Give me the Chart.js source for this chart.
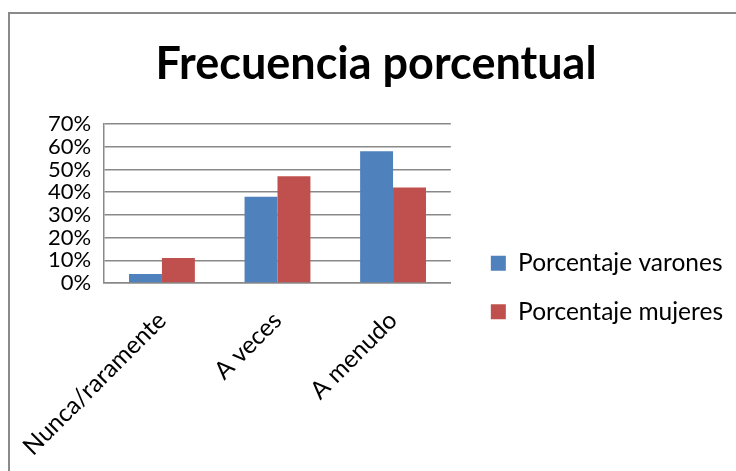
<!DOCTYPE html>
<html>
<head>
<meta charset="utf-8">
<script src="https://cdn.jsdelivr.net/npm/chart.js@4/dist/chart.umd.min.js"></script>
<style>
  html, body { margin: 0; padding: 0; background: #fff; }
  #frame { position: absolute; left: 8px; top: 12px; width: 800px; height: 500px;
           border-left: 2px solid #8a8a8a; border-top: 2px solid #8a8a8a; }
  #wrap { position: absolute; left: 0; top: 0; width: 736px; height: 471px; }
</style>
</head>
<body>
<div id="frame"></div>
<div id="wrap"><canvas id="c"></canvas></div>
<script>
const categories = ['Nunca/raramente', 'A veces', 'A menudo'];
const varones = [4, 38, 58];
const mujeres = [11, 47, 42];
const yTicks = [0, 10, 20, 30, 40, 50, 60, 70];

const FONT = 'Lato, "Open Sans", sans-serif';
const GRID = '#898989';

// nudges the legend column relative to the plot area
const legendShift = {
  id: 'legendShift',
  afterLayout(chart, args, opts) {
    const lg = chart.legend;
    if (!lg) return;
    lg.left += opts.dx; lg.right += opts.dx;
    lg.top += opts.dy; lg.bottom += opts.dy;
  }
};

new Chart(document.getElementById('c'), {
  type: 'bar',
  data: {
    labels: categories,
    datasets: [
      { label: 'Porcentaje varones', data: varones, backgroundColor: '#4F81BD' },
      { label: 'Porcentaje mujeres', data: mujeres, backgroundColor: '#C0504D' }
    ]
  },
  plugins: [legendShift],
  options: {
    responsive: true,
    maintainAspectRatio: false,
    animation: false,
    layout: { padding: { left: 35, right: 19, top: 0, bottom: 0 } },
    datasets: { bar: { categoryPercentage: 0.57, barPercentage: 1.0 } },
    scales: {
      x: {
        grid: { display: false, drawTicks: false },
        border: { display: true, color: GRID, width: 1.5 },
        afterFit(scale) { scale.paddingLeft = 0; scale.paddingRight = 0; scale.height = 188; },
        ticks: {
          color: '#000', font: { family: FONT, size: 24.5 },
          minRotation: 45, maxRotation: 45, padding: 23, autoSkip: false
        }
      },
      y: {
        min: 0, max: 70,
        afterBuildTicks(scale) { scale.ticks = yTicks.map(v => ({ value: v })); },
        grid: { color: GRID, lineWidth: 1.5, drawTicks: false },
        border: { display: true, color: GRID, width: 1.5 },
        ticks: {
          color: '#000', font: { family: FONT, size: 22 }, padding: 13,
          autoSkip: false,
          callback: v => v + '%'
        }
      }
    },
    plugins: {
      legendShift: { dx: 16, dy: 52 },
      title: {
        display: true, text: 'Frecuencia porcentual', color: '#000',
        font: { family: FONT, size: 45, weight: 'bold' },
        padding: { top: 37, bottom: 33 }
      },
      legend: {
        position: 'right', align: 'center', maxWidth: 320,
        labels: {
          color: '#000', font: { family: FONT, size: 24.5 },
          boxWidth: 15, boxHeight: 15, padding: 24
        }
      },
      tooltip: { enabled: false }
    }
  }
});
</script>
</body>
</html>
